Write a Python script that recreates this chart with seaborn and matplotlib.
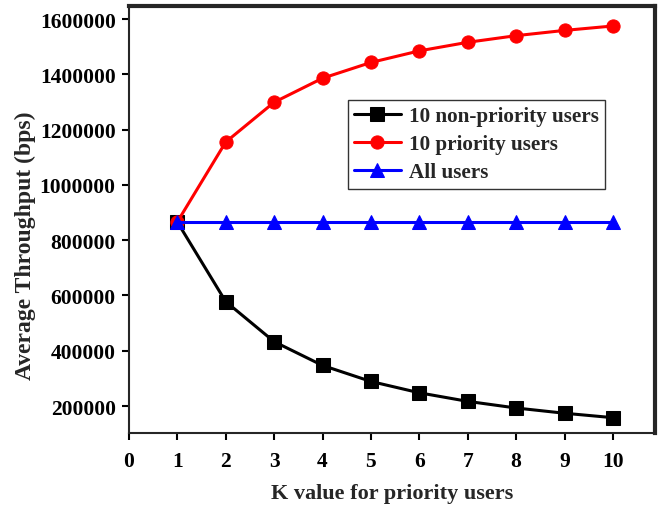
import numpy as np
import pandas as pd
import matplotlib
matplotlib.use("Agg")
import matplotlib.pyplot as plt
import seaborn as sns

k_values = [1, 2, 3, 4, 5, 6, 7, 8, 9, 10]
non_priority = [866000, 578000, 433000, 347000, 289000, 248000, 217000, 193000, 174000, 158000]
priority = [866000, 1155000, 1299000, 1386000, 1443000, 1485000, 1516000, 1540000, 1559000, 1575000]
all_users = [866000, 866000, 866000, 866000, 866000, 866000, 866000, 866000, 866000, 866000]

series_names = ["10 non-priority users", "10 priority users", "All users"]
colors = ["black", "red", "blue"]
markers = ["s", "o", "^"]

sns.set_style("ticks")
plt.rcParams['font.family'] = ['Liberation Serif', 'DejaVu Serif']
plt.rcParams['font.weight'] = 'bold'

fig = plt.figure(figsize=(6.61, 5.06), dpi=100)
ax = fig.add_axes([0.195, 0.142, 0.796, 0.844])

for name, vals, c, m in zip(series_names, [non_priority, priority, all_users], colors, markers):
    df = pd.DataFrame({"K": k_values, "T": vals})
    sns.lineplot(data=df, x="K", y="T", ax=ax, color=c, marker=m, markersize=9.5,
                 markeredgecolor=c, linewidth=2.2, label=name)

ax.set_xlim(0, 10.87)
ax.set_ylim(102000, 1647000)
ax.set_xticks(range(0, 11))
ax.set_yticks(range(200000, 1600001, 200000))
ax.set_xticklabels([str(i) for i in range(0, 11)], fontsize=15.5, fontweight='bold')
ax.set_yticklabels([str(v) for v in range(200000, 1600001, 200000)], fontsize=15.5, fontweight='bold')
ax.set_xlabel("K value for priority users", fontsize=16, fontweight='bold')
ax.set_ylabel("Average Throughput (bps)", fontsize=17, fontweight='bold')
ax.xaxis.set_label_coords(0.5, -0.117)
ax.yaxis.set_label_coords(-0.177, 0.44)
ax.tick_params(direction='out', length=5, width=1.5, colors='black')
ax.tick_params(axis='x', pad=8)
ax.tick_params(axis='y', pad=4.5)

for s in ['left', 'bottom']:
    ax.spines[s].set_linewidth(1.5)
for s in ['top', 'right']:
    ax.spines[s].set_visible(True)
    ax.spines[s].set_linewidth(3)

leg = ax.legend(loc='upper left', bbox_to_anchor=(0.416, 0.78), frameon=True, fancybox=False,
                edgecolor='black', fontsize=15.2, handlelength=2.2, borderpad=0.3,
                labelspacing=0.38, handletextpad=0.4, borderaxespad=0)
leg.get_frame().set_linewidth(1)
for t in leg.get_texts():
    t.set_fontweight('bold')

fig.savefig("out.png", dpi=100)
